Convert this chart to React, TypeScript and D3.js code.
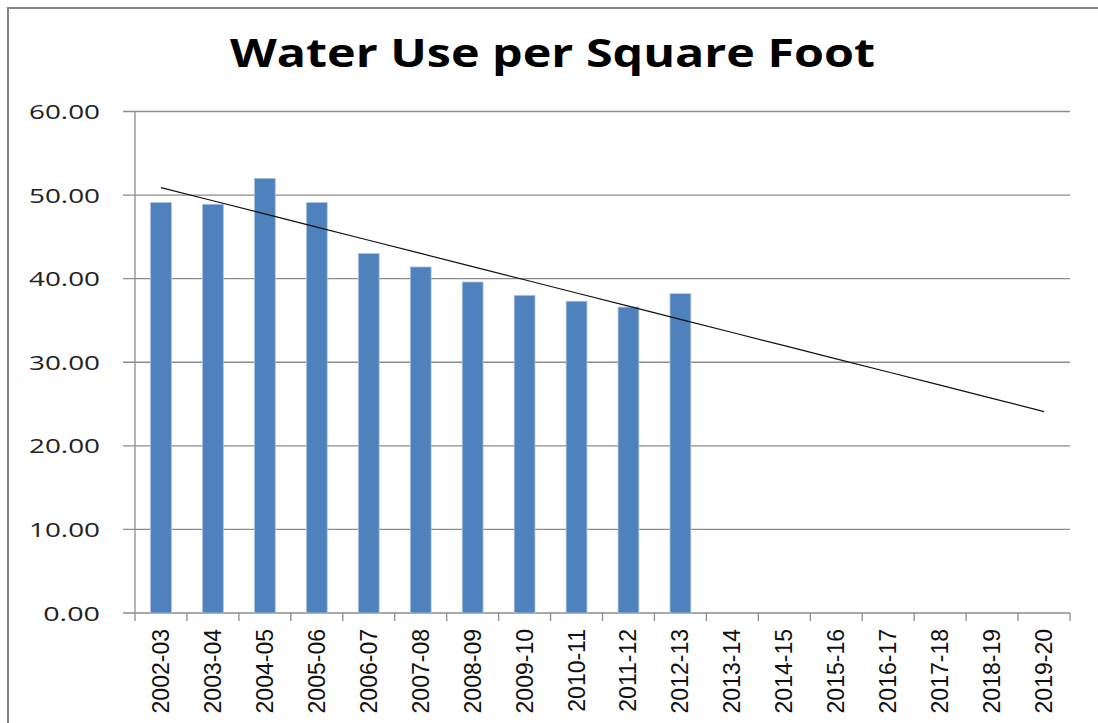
import React from "react";
import * as d3 from "d3";

const years = [
  "2002-03", "2003-04", "2004-05", "2005-06", "2006-07", "2007-08",
  "2008-09", "2009-10", "2010-11", "2011-12", "2012-13", "2013-14",
  "2014-15", "2015-16", "2016-17", "2017-18", "2018-19", "2019-20",
];
const waterUse = [49.1, 48.9, 52.0, 49.1, 43.0, 41.4, 39.6, 38.0, 37.3, 36.6, 38.2];
const yTicks = [0, 10, 20, 30, 40, 50, 60];

const W = 1098;
const H = 723;
const left = 135;
const right = 1070;
const top = 111.5;
const bottom = 613;

export default function App() {
  const x = d3.scaleBand().domain(years).range([left, right]).paddingInner(0.6).paddingOuter(0.3);
  const y = d3.scaleLinear().domain([0, 60]).range([bottom, top]);
  const step = (right - left) / years.length;

  // linear trendline (least squares over the bars), projected to the last category
  const idx = waterUse.map((_, i) => i);
  const mx = d3.mean(idx)!;
  const my = d3.mean(waterUse)!;
  const slope =
    d3.sum(idx, (i) => (i - mx) * (waterUse[i] - my)) / d3.sum(idx, (i) => (i - mx) ** 2);
  const fit = (i: number) => my + slope * (i - mx);
  const cx = (i: number) => x(years[i])! + x.bandwidth() / 2;
  const trend = d3.line<number>().x((i) => cx(i)).y((i) => y(fit(i)));

  return (
    <svg width={W} height={H} style={{ position: "absolute", left: 0, top: 0, background: "#fff" }}>
      <rect x={8} y={8} width={W + 10} height={H + 10} fill="none" stroke="#868686" strokeWidth={2} />
      <text
        x={230}
        y={67}
        textLength={645}
        lengthAdjust="spacingAndGlyphs"
        fontFamily="Open Sans, sans-serif"
        fontWeight="bold"
        fontSize={40}
      >
        Water Use per Square Foot
      </text>

      {yTicks.map((t) => {
        const label = t.toFixed(2);
        return (
          <g key={t}>
            <line x1={123} x2={right} y1={y(t)} y2={y(t)} stroke="#8c8c8c" strokeWidth={1.3} />
            <text
              x={100 - label.length * 14.2}
              y={y(t) + 7.5}
              textLength={label.length * 14.2}
              lengthAdjust="spacingAndGlyphs"
              fontFamily="Open Sans, sans-serif"
              fontSize={20}
              fill="#222"
            >
              {label}
            </text>
          </g>
        );
      })}
      <line x1={left} x2={left} y1={top} y2={bottom} stroke="#8c8c8c" strokeWidth={1.3} />

      {waterUse.map((v, i) => (
        <rect key={i} x={x(years[i])} y={y(v)} width={x.bandwidth()} height={y(0) - y(v)} fill="#4f81bd" stroke="#a8c1e0" strokeWidth={0.8} />
      ))}

      {d3.range(years.length + 1).map((i) => (
        <line key={i} x1={left + i * step} x2={left + i * step} y1={bottom} y2={bottom + 8} stroke="#8c8c8c" strokeWidth={1.3} />
      ))}
      {years.map((yr) => (
        <text
          key={yr}
          transform={`translate(${x(yr)! + x.bandwidth() / 2 + 8},${629}) rotate(-90)`}
          textAnchor="end"
          fontFamily="Liberation Sans Narrow, Arial Narrow, sans-serif"
          fontSize={23}
          fill="#111"
        >
          {yr}
        </text>
      ))}

      <path d={trend(d3.range(years.length))!} fill="none" stroke="#111" strokeWidth={1.2} />
    </svg>
  );
}
